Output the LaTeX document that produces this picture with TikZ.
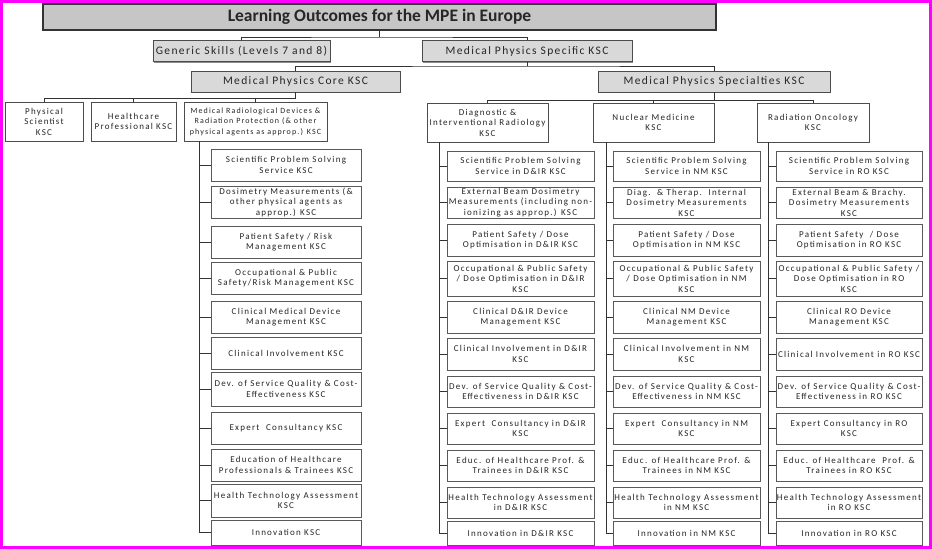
\documentclass[tikz,border=0pt]{standalone}
\usepackage{fontspec}
\setmainfont{Carlito}
\newfontfamily\kscfont{Carlito}[LetterSpace=14]
\newfontfamily\levelfont{Carlito}[LetterSpace=12]
\usetikzlibrary{shadows}
\definecolor{framepink}{RGB}{255,0,255}

\begin{document}
\begin{tikzpicture}[x=1pt, y=-1pt]
        \tikzset{every node/.style={align=center, inner sep=1pt, text=black!85},
          titlebox/.style={rectangle, draw=black!80, line width=1.3pt, fill=gray!45, minimum width=673pt, minimum height=26pt, font=\fontsize{17.5}{19}\selectfont\bfseries},
          levelbox/.style={rectangle, draw=black!70, line width=0.8pt, fill=gray!30, minimum height=21pt, font=\levelfont\fontsize{11.5}{13}\selectfont, drop shadow={shadow xshift=1.2pt, shadow yshift=-1.2pt, fill=black!45, opacity=1}},
          headbox/.style={rectangle, draw=black!70, line width=0.7pt, fill=white, minimum height=39pt, font=\kscfont\fontsize{9}{10.5}\selectfont},
          corebox/.style={rectangle, draw=black!65, line width=0.7pt, fill=white, minimum width=150pt, minimum height=32pt, font=\kscfont\fontsize{9}{10.5}\selectfont},
          specbox/.style={corebox, minimum width=147pt},
          link/.style={draw=black!80, line width=0.8pt}}
        \useasboundingbox (0,0) rectangle (932,549);
        \fill[white] (0,0) rectangle (932,549);
        \draw[framepink, line width=3pt] (1.5,1.5) rectangle (930.5,547.5);
        % top levels
        \node[titlebox] (title) at (379.5,17) {Learning Outcomes for the MPE in Europe};
        \node[levelbox, minimum width=177pt] (generic) at (241.5,51) {Generic Skills (Levels 7 and 8)};
        \node[levelbox, minimum width=210pt] (mps) at (527,51) {Medical Physics Specific KSC};
        \node[levelbox, minimum width=209pt] (core) at (295.5,81.5) {Medical Physics Core KSC};
        \node[levelbox, minimum width=232pt] (spec) at (714,81.5) {Medical Physics Specialties KSC};
        % core heads
        \node[headbox, minimum width=78pt] (ps) at (44,121.5) {Physical\\Scientist\\KSC};
        \node[headbox, minimum width=85pt] (hp) at (133.5,121.5) {Healthcare\\Professional KSC};
        \node[headbox, minimum width=143pt, font=\kscfont\fontsize{8}{10.5}\selectfont] (mrd) at (255.5,121.5) {Medical Radiological Devices \&\\Radiation Protection (\& other\\physical agents as approp.) KSC};
        % specialty heads
        \node[headbox, minimum width=121pt] (dir) at (487.5,122.5) {Diagnostic \&\\Interventional Radiology\\KSC};
        \node[headbox, minimum width=121pt] (nm) at (653.5,122.5) {Nuclear Medicine\\KSC};
        \node[headbox, minimum width=112pt] (ro) at (813,122.5) {Radiation Oncology\\KSC};
        % core KSC list
        \node[corebox] (c1) at (286,165) {Scientific Problem Solving\\Service KSC};
        \node[corebox] (c2) at (286,202) {Dosimetry Measurements (\&\\other physical agents as\\approp.) KSC};
        \node[corebox] (c3) at (286,242) {Patient Safety / Risk\\Management KSC};
        \node[corebox] (c4) at (286,278) {Occupational \& Public\\Safety/Risk Management KSC};
        \node[corebox] (c5) at (286,317) {Clinical Medical Device\\Management KSC};
        \node[corebox] (c6) at (286,353) {Clinical Involvement KSC};
        \node[corebox, minimum height=34pt] (c7) at (286,389) {Dev. of Service Quality \& Cost-\\Effectiveness KSC};
        \node[corebox] (c8) at (286,428) {Expert\ \ Consultancy KSC};
        \node[corebox] (c9) at (286,465) {Education of Healthcare\\Professionals \& Trainees KSC};
        \node[corebox, minimum height=33pt] (c10) at (286,500.5) {Health Technology Assessment\\KSC};
        \node[corebox, minimum height=25pt] (c11) at (286,532.5) {Innovation KSC};
        % D&IR list
        \node[specbox, minimum height=30pt] (d1) at (520.5,166) {Scientific Problem Solving\\Service in D\&IR KSC};
        \node[specbox, minimum height=31pt] (d2) at (520.5,202.5) {External Beam Dosimetry\\Measurements (including non-\\ionizing as approp.) KSC};
        \node[specbox] (d3) at (520.5,240) {Patient Safety / Dose\\Optimisation in D\&IR KSC};
        \node[specbox, minimum height=35pt] (d4) at (520.5,278.5) {Occupational \& Public Safety\\/ Dose Optimisation in D\&IR\\KSC};
        \node[specbox] (d5) at (520.5,317) {Clinical D\&IR Device\\Management KSC};
        \node[specbox] (d6) at (520.5,354) {Clinical Involvement in D\&IR\\KSC};
        \node[specbox, minimum height=31pt] (d7) at (520.5,391.5) {Dev. of Service Quality \& Cost-\\Effectiveness in D\&IR KSC};
        \node[specbox, minimum height=31pt] (d8) at (520.5,428.5) {Expert\ \ Consultancy in D\&IR\\KSC};
        \node[specbox, minimum height=31pt] (d9) at (520.5,465.5) {Educ. of Healthcare Prof. \&\\Trainees in D\&IR KSC};
        \node[specbox, minimum height=31pt] (d10) at (520.5,502.5) {Health Technology Assessment\\in D\&IR KSC};
        \node[specbox, minimum height=24pt] (d11) at (520.5,533) {Innovation in D\&IR KSC};
        % NM list
        \node[specbox, minimum height=30pt] (n1) at (686.5,166) {Scientific Problem Solving\\Service in NM KSC};
        \node[specbox, minimum height=31pt] (n2) at (686.5,202.5) {Diag.\ \ \& Therap.\ \ Internal\\Dosimetry Measurements\\KSC};
        \node[specbox] (n3) at (686.5,240) {Patient Safety / Dose\\Optimisation in NM KSC};
        \node[specbox, minimum height=35pt] (n4) at (686.5,278.5) {Occupational \& Public Safety\\/ Dose Optimisation in NM\\KSC};
        \node[specbox] (n5) at (686.5,317) {Clinical NM Device\\Management KSC};
        \node[specbox] (n6) at (686.5,354) {Clinical Involvement in NM\\KSC};
        \node[specbox, minimum height=31pt] (n7) at (686.5,391.5) {Dev. of Service Quality \& Cost-\\Effectiveness in NM KSC};
        \node[specbox, minimum height=31pt] (n8) at (686.5,428.5) {Expert\ \ Consultancy in NM\\KSC};
        \node[specbox, minimum height=31pt] (n9) at (686.5,465.5) {Educ. of Healthcare Prof. \&\\Trainees in NM KSC};
        \node[specbox, minimum height=31pt] (n10) at (686.5,502.5) {Health Technology Assessment\\in NM KSC};
        \node[specbox, minimum height=24pt] (n11) at (686.5,533) {Innovation in NM KSC};
        % RO list
        \node[specbox, minimum width=146pt, minimum height=30pt] (r1) at (849,166) {Scientific Problem Solving\\Service in RO KSC};
        \node[specbox, minimum width=146pt, minimum height=31pt] (r2) at (849,202.5) {External Beam \& Brachy.\\Dosimetry Measurements\\KSC};
        \node[specbox, minimum width=146pt] (r3) at (849,240) {Patient Safety\ \ / Dose\\Optimisation in RO KSC};
        \node[specbox, minimum width=146pt, minimum height=35pt] (r4) at (849,278.5) {Occupational \& Public Safety /\\Dose Optimisation in RO\\KSC};
        \node[specbox, minimum width=146pt] (r5) at (849,317) {Clinical RO Device\\Management KSC};
        \node[specbox, minimum width=146pt] (r6) at (849,354) {Clinical Involvement in RO KSC};
        \node[specbox, minimum width=146pt, minimum height=31pt] (r7) at (849,391.5) {Dev. of Service Quality \& Cost-\\Effectiveness in RO KSC};
        \node[specbox, minimum width=146pt, minimum height=31pt] (r8) at (849,428.5) {Expert Consultancy in RO\\KSC};
        \node[specbox, minimum width=146pt, minimum height=31pt] (r9) at (849,465.5) {Educ. of Healthcare\ \ Prof. \&\\Trainees in RO KSC};
        \node[specbox, minimum width=146pt, minimum height=31pt] (r10) at (849,502.5) {Health Technology Assessment\\in RO KSC};
        \node[specbox, minimum width=146pt, minimum height=24pt] (r11) at (849,533) {Innovation in RO KSC};
        % joints
        \coordinate (j0) at (379.5,37);
        \coordinate (j1) at (527,66);
        \coordinate (j2) at (295.5,98);
        \coordinate (j3) at (714,100);
        \coordinate (tc) at (199,141);
        \coordinate (td) at (439,142);
        \coordinate (tn) at (606,142);
        \coordinate (tr) at (768,142);
        \draw[link] (title.south) -- (j0);
        \draw[link] (generic.north) |- (j0) -| (mps.north);
        \draw[link] (mps.south) -- (j1);
        \draw[link] (core.north) |- (j1) -| (spec.north);
        \draw[link] (core.south) -- (j2);
        \draw[link] (ps.north) |- (j2);
        \draw[link] (hp.north) -- (hp.north |- j2);
        \draw[link] (mrd.north) -- (mrd.north |- j2);
        \draw[link] (spec.south) -- (j3);
        \draw[link] (dir.north) |- (j3);
        \draw[link] (ro.north) |- (j3);
        \draw[link] (nm.north) -- (nm.north |- j3);
        \foreach \col/\t in {c/tc, d/td, n/tn, r/tr} {
          \draw[link] (\t) |- (\col11.west);
          \foreach \i in {1,...,10} \draw[link] (\col\i.west) -- (\col\i.west -| \t);
        }
    \end{tikzpicture}
\end{document}
